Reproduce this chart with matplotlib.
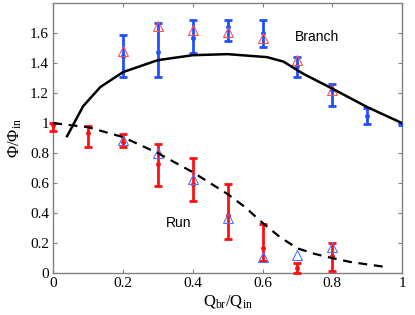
import matplotlib
matplotlib.use('Agg')
import matplotlib.pyplot as plt

# Branch: measured (blue) with error bars, simulated (red triangles), model (solid)
br_x = [0.2, 0.3, 0.4, 0.5, 0.6, 0.7, 0.8, 0.9, 1.0]
br_y = [1.447, 1.473, 1.567, 1.64, 1.60, 1.38, 1.22, 1.047, 0.993]
br_lo = [1.31, 1.31, 1.467, 1.55, 1.51, 1.31, 1.113, 0.993, 0.985]
br_hi = [1.587, 1.667, 1.69, 1.69, 1.69, 1.44, 1.26, 1.10, 1.0]
br_sim_x = [0.2, 0.3, 0.4, 0.5, 0.6, 0.7, 0.8]
br_sim_y = [1.48, 1.65, 1.62, 1.61, 1.57, 1.42, 1.22]
br_mod_x = [0.04, 0.086, 0.135, 0.2, 0.3, 0.4, 0.5, 0.613, 0.66, 0.716, 0.8, 0.9, 1.0]
br_mod_y = [0.913, 1.113, 1.24, 1.34, 1.42, 1.453, 1.46, 1.44, 1.41, 1.33, 1.23, 1.107, 1.0]

# Run: measured (red) with error bars, simulated (blue triangles), model (dashed)
run_x = [0.0, 0.1, 0.2, 0.3, 0.4, 0.5, 0.6, 0.7, 0.8]
run_y = [0.987, 0.933, 0.875, 0.727, 0.593, 0.387, 0.167, 0.033, 0.113]
run_lo = [0.947, 0.84, 0.842, 0.58, 0.48, 0.227, 0.08, 0.0, 0.013]
run_hi = [1.0, 0.98, 0.927, 0.86, 0.767, 0.593, 0.327, 0.067, 0.2]
run_sim_x = [0.2, 0.3, 0.4, 0.5, 0.6, 0.7, 0.8]
run_sim_y = [0.89, 0.80, 0.627, 0.367, 0.107, 0.12, 0.173]
run_mod_x = [0.0, 0.1, 0.2, 0.3, 0.4, 0.5, 0.55, 0.6, 0.65, 0.7, 0.75, 0.8, 0.85, 0.9, 0.95]
run_mod_y = [1.0, 0.973, 0.907, 0.80, 0.673, 0.527, 0.44, 0.335, 0.24, 0.165, 0.128, 0.10, 0.075, 0.058, 0.042]

serif = 'Liberation Serif'
blue = '#2050ff'
red = '#ff1010'

fig = plt.figure(figsize=(4.15, 3.15), dpi=100)
ax = fig.add_axes([0.128, 0.133, 0.841, 0.857])

ax.errorbar(br_x, br_y,
            yerr=[[y - l for y, l in zip(br_y, br_lo)], [h - y for y, h in zip(br_y, br_hi)]],
            fmt='.', color=blue, ms=5, elinewidth=2, capsize=3, capthick=2, zorder=3)
ax.plot(br_sim_x, br_sim_y, '^', mfc='none', mec='#ff5050', ms=7, mew=0.8, zorder=4)
ax.plot(br_mod_x, br_mod_y, '-', color='k', lw=1.8, zorder=5)

ax.errorbar(run_x, run_y,
            yerr=[[y - l for y, l in zip(run_y, run_lo)], [h - y for y, h in zip(run_y, run_hi)]],
            fmt='.', color=red, ms=5, elinewidth=2, capsize=3, capthick=2, zorder=3,
            clip_on=False)
ax.plot(run_sim_x, run_sim_y, '^', mfc='none', mec='#5070ff', ms=7, mew=0.8, zorder=4)
ax.plot(run_mod_x, run_mod_y, '--', color='k', lw=1.6, dashes=(4, 3), zorder=5)

ax.text(0.757, 1.573, 'Branch', fontsize=10, family='Liberation Sans', ha='center', va='center')
ax.text(0.36, 0.333, 'Run', fontsize=10, family='Liberation Sans', ha='center', va='center')

ax.set_xlim(0, 1)
ax.set_ylim(0, 1.8)
ax.set_xticks([0, 0.2, 0.4, 0.6, 0.8, 1])
ax.set_xticklabels(['0', '0.2', '0.4', '0.6', '0.8', '1'])
ax.set_yticks([0, 0.2, 0.4, 0.6, 0.8, 1, 1.2, 1.4, 1.6])
ax.set_yticklabels(['0', '0.2', '0.4', '0.6', '0.8', '1', '1.2', '1.4', '1.6'])
for lab in ax.get_xticklabels() + ax.get_yticklabels():
    lab.set_family(serif)
    lab.set_fontsize(11)
ax.tick_params(direction='in', top=True, right=True, length=3, color='#808080', pad=3)
for s in ax.spines.values():
    s.set_color('#808080')
    s.set_linewidth(1)

ax.set_xlabel(r'$\mathregular{Q_{br}/Q_{in}}$', family=serif, fontsize=12, labelpad=2)
ax.set_ylabel(r'$\mathregular{\Phi/\Phi_{in}}$', family=serif, fontsize=12, labelpad=4)

fig.savefig('out.png', dpi=100)
